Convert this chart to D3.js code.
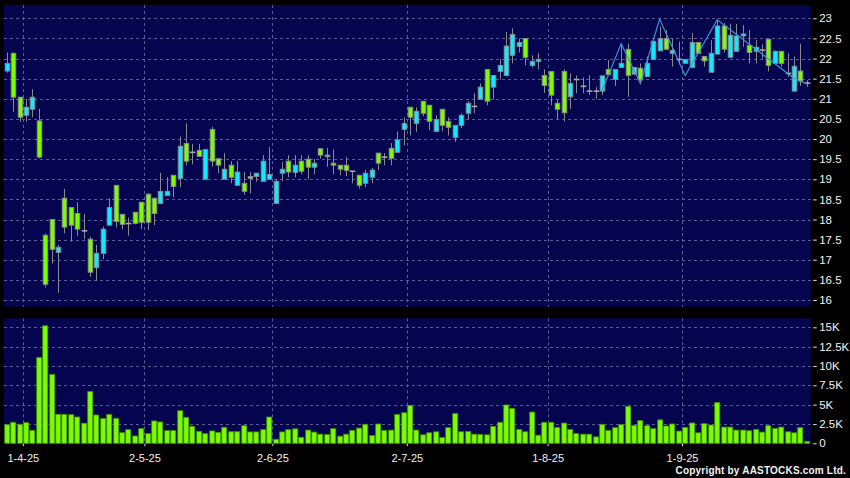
<!DOCTYPE html>
<html><head><meta charset="utf-8">
<script src="https://cdn.jsdelivr.net/npm/d3@7"></script>
<style>html,body{margin:0;padding:0;background:#000;} svg{display:block;}</style>
</head><body>
<svg id="c" width="850" height="478"></svg>
<script>
// ---- data (index 0 = 28-3-25, one entry per trading day) ----
const open = [21.69,22.13,21.04,20.59,20.74,20.45,17.61,18.00,17.18,18.53,18.30,18.15,17.72,17.51,16.81,17.16,17.86,18.85,18.13,17.90,
18.18,18.43,18.63,18.53,18.40,18.60,19.10,19.02,19.89,19.67,19.72,19.00,20.24,19.51,19.00,19.35,18.85,18.90,19.02,19.07,
18.95,19.00,18.40,19.15,19.45,19.17,19.45,19.50,19.30,19.76,19.60,19.40,19.35,19.35,19.20,19.10,18.90,19.05,19.65,19.55,
19.77,19.67,20.24,20.79,20.39,20.94,20.84,20.19,20.74,20.44,20.04,20.34,20.64,20.81,20.99,21.73,21.29,21.68,21.58,22.08,
22.30,22.50,21.83,21.93,21.58,21.68,20.89,21.68,21.05,21.48,21.31,21.19,21.19,21.19,21.73,21.48,21.78,22.23,21.61,21.76,
21.55,21.98,22.19,22.50,22.13,21.98,21.88,21.78,22.40,22.05,21.66,22.11,22.81,22.03,22.18,22.56,22.33,22.18,22.21,22.48,
21.88,22.18,21.63,21.19,21.69,21.39];
const high = [22.15,22.15,21.04,21.00,21.24,20.75,17.65,18.00,17.37,18.76,18.30,18.43,18.14,17.57,17.37,17.82,18.53,18.85,18.13,18.05,
18.18,18.43,18.65,18.53,19.16,19.05,19.10,20.06,20.39,19.88,19.88,19.74,20.30,19.51,19.65,19.45,19.45,19.18,19.18,19.15,
19.60,19.80,19.00,19.43,19.60,19.60,19.60,19.60,19.50,19.76,19.78,19.74,19.35,19.55,19.20,19.10,19.23,19.28,19.65,19.65,
19.90,20.19,20.54,20.79,20.79,20.94,20.84,20.59,20.74,20.54,20.34,20.64,20.94,21.14,21.38,21.73,21.58,21.98,22.66,22.75,
22.50,22.50,22.08,22.13,21.73,21.68,20.97,21.73,21.63,21.58,21.53,21.58,21.29,21.57,21.96,21.73,22.37,22.37,21.78,21.88,
22.05,22.43,22.79,22.71,22.50,22.42,21.98,22.63,22.40,22.05,22.46,22.96,22.88,22.86,22.86,22.83,22.71,22.46,22.35,22.48,
22.20,22.18,22.13,22.05,22.37,21.46];
const low = [21.65,20.68,20.43,20.43,20.54,19.52,16.31,16.91,16.18,17.66,17.45,17.60,17.51,16.58,16.48,17.01,17.86,17.80,17.76,17.60,
17.88,17.76,17.74,17.86,18.40,18.60,18.55,18.80,19.35,19.37,19.57,19.00,19.31,19.15,19.00,18.90,18.85,18.62,18.65,18.94,
18.95,19.00,18.40,18.95,19.05,19.05,19.13,19.00,19.13,19.51,19.31,19.13,19.10,19.08,18.90,18.77,18.80,18.90,19.23,19.35,
19.35,19.67,19.84,20.09,20.18,20.57,20.22,20.19,20.19,20.09,19.93,20.27,20.49,20.64,20.99,20.84,20.99,21.48,21.58,21.88,
22.15,21.83,21.78,21.73,21.14,20.84,20.49,20.44,20.75,21.14,21.14,21.09,20.99,21.09,21.60,21.32,21.78,21.05,21.61,21.38,
21.55,21.98,22.19,22.23,21.80,21.85,21.88,21.78,22.13,21.80,21.66,22.11,22.15,22.03,22.18,22.29,21.88,21.88,22.00,21.68,
21.88,21.80,21.55,21.19,21.32,21.30];
const close = [21.88,21.04,20.54,20.79,21.04,19.55,16.39,17.26,17.31,17.81,17.86,17.76,17.72,16.69,17.16,17.76,18.30,17.95,17.88,17.90,
17.90,17.93,17.93,18.15,18.70,18.70,18.82,19.82,19.45,19.67,19.57,19.74,19.45,19.35,19.25,19.05,19.18,18.70,19.07,19.15,
19.45,19.12,18.95,19.25,19.18,19.35,19.20,19.30,19.40,19.60,19.56,19.35,19.25,19.22,19.20,18.85,19.15,19.23,19.40,19.55,
19.52,19.98,20.39,20.54,20.69,20.64,20.44,20.49,20.34,20.29,20.34,20.59,20.89,20.81,21.29,20.94,21.58,21.83,22.31,22.60,
22.40,22.03,21.93,21.98,21.33,21.09,20.74,20.65,21.38,21.48,21.31,21.19,21.19,21.57,21.60,21.73,21.88,21.58,21.78,21.47,
21.88,22.43,22.50,22.23,22.20,21.98,21.98,22.40,22.13,21.94,22.13,22.81,22.23,22.58,22.56,22.61,22.15,22.28,22.21,21.83,
22.18,21.88,21.63,21.81,21.44,21.39];
// volume in thousands
const volume = [2.41,2.72,2.46,2.67,1.68,11.1,15.2,8.9,3.75,3.75,3.7,3.4,2.6,6.7,3.66,3.2,3.75,3.23,1.38,1.77,
0.95,1.9,1.25,2.89,2.76,1.64,1.64,4.22,3.36,2.2,1.55,1.25,1.6,1.42,2.07,1.5,1.5,2.28,1.47,1.47,
1.77,3.4,0.52,1.47,1.76,1.87,0.78,1.71,1.45,1.18,1.14,1.89,0.92,1.18,1.67,1.97,2.46,1.0,2.5,1.67,
1.71,3.73,3.95,4.91,1.71,1.1,1.36,1.49,0.75,2.02,3.86,1.49,1.54,1.18,1.14,1.1,2.19,2.72,4.96,4.52,
1.8,1.49,4.04,1.05,2.72,2.72,2.06,2.62,1.8,1.27,1.18,1.18,0.83,2.46,1.67,2.02,2.41,4.78,2.32,2.94,
2.28,1.89,3.03,2.24,2.5,1.58,2.06,2.63,1.36,2.54,2.37,5.26,2.1,2.1,1.71,1.71,1.62,1.8,1.45,2.28,
1.93,2.1,1.49,1.36,2.02,0.26];
const priceTicks = [16,16.5,17,17.5,18,18.5,19,19.5,20,20.5,21,21.5,22,22.5,23];
const volTicks = [0,2.5,5,7.5,10,12.5,15];
const volTickLabels = ["0","2.5K","5K","7.5K","10K","12.5K","15K"];
const dateTickIdx = [2,21,41,62,84,105];
const dateTickLabels = ["1-4-25","2-5-25","2-6-25","2-7-25","1-8-25","1-9-25"];
const zigIdx = [93,96,99,102,106,111,123,125];
const zigVal = [21.2,22.37,21.38,22.98,21.58,22.96,21.51,21.37];

// ---- layout ----
const panelL = 4, panelR = 810.7;
const pTop = 5, pBot = 306.7, vTop = 318.3, vBot = 443.7;
const NAVY = "#05054f", GRID = "#5c5c94", GREEN = "#7cfc00", CYAN = "#12e8ff", OUTL = "#8a8a8a";

const svg = d3.select("#c");
svg.append("rect").attr("width",850).attr("height",478).attr("fill","#000");

const x = d3.scaleLinear().domain([0, open.length-1]).range([6.8, 806.8]);
const y = d3.scaleLinear().domain([16,23]).range([300,18.3]);
const yv = d3.scaleLinear().domain([0,15]).range([443.3,327.3]);

svg.append("rect").attr("x",panelL).attr("y",pTop).attr("width",panelR-panelL).attr("height",pBot-pTop).attr("fill",NAVY);
svg.append("rect").attr("x",panelL).attr("y",vTop).attr("width",panelR-panelL).attr("height",vBot-vTop).attr("fill",NAVY);

const grid = svg.append("g").attr("stroke",GRID).attr("stroke-width",1).attr("stroke-dasharray","3,3");
priceTicks.forEach(t => grid.append("line").attr("x1",panelL).attr("x2",panelR)
  .attr("y1",Math.round(y(t))+0.5).attr("y2",Math.round(y(t))+0.5));
volTicks.filter(t=>t>0).forEach(t => grid.append("line").attr("x1",panelL).attr("x2",panelR)
  .attr("y1",Math.round(yv(t))+0.5).attr("y2",Math.round(yv(t))+0.5));
dateTickIdx.forEach(i => {
  const xx = Math.round(x(i+0.5))+0.5;
  grid.append("line").attr("x1",xx).attr("x2",xx).attr("y1",pTop).attr("y2",pBot);
  grid.append("line").attr("x1",xx).attr("x2",xx).attr("y1",vTop).attr("y2",vBot);
});

// ---- candles ----
const idx = d3.range(open.length);
const cg = svg.append("g");
idx.forEach(i => {
  const cx = Math.round(x(i)) + 0.5;
  cg.append("line").attr("x1",cx).attr("x2",cx).attr("y1",y(high[i])).attr("y2",y(low[i]))
    .attr("stroke",OUTL).attr("stroke-width",1);
  const top = y(Math.max(open[i],close[i])), bot = y(Math.min(open[i],close[i]));
  if (bot - top < 1.5) {
    cg.append("line").attr("x1",cx-2.8).attr("x2",cx+2.8).attr("y1",(top+bot)/2).attr("y2",(top+bot)/2)
      .attr("stroke","#a8a8a8").attr("stroke-width",1.6);
  } else {
    cg.append("rect").attr("x",cx-2.3).attr("width",4.6).attr("y",top).attr("height",bot-top)
      .attr("fill", close[i] > open[i] ? CYAN : GREEN).attr("stroke",OUTL).attr("stroke-width",0.9);
  }
});

// ---- zigzag line ----
const zz = zigIdx.map((d,k)=>[d, zigVal[k]]);
svg.append("path").attr("d", d3.line().x(d=>x(d[0])).y(d=>y(d[1]))(zz))
  .attr("fill","none").attr("stroke","#3a9ad8").attr("stroke-width",1.1);

// ---- volume ----
const vg = svg.append("g");
idx.forEach(i => {
  vg.append("rect").attr("x",Math.round(x(i))-2.3).attr("width",5.1)
    .attr("y",yv(volume[i])).attr("height",yv(0)-yv(volume[i]))
    .attr("fill",GREEN).attr("stroke","#3e8f00").attr("stroke-width",0.8);
});

// ---- axes ----
const FONT = "'Liberation Sans', Arial, sans-serif";
function styleAxis(g, size){
  g.select(".domain").remove();
  g.selectAll(".tick line").attr("stroke","#e0e0e0");
  g.selectAll(".tick text").attr("fill","#f2f2f2").style("font-family",FONT).style("font-size",size);
}
const ay = svg.append("g").attr("transform",`translate(${panelR+2.5},0)`)
  .call(d3.axisRight(y).tickValues(priceTicks).tickSize(3.5).tickPadding(2.5).tickFormat(d=>String(d)));
styleAxis(ay,"11.5px");
const av = svg.append("g").attr("transform",`translate(${panelR+2.5},0)`)
  .call(d3.axisRight(yv).tickValues(volTicks).tickSize(3.5).tickPadding(2.5).tickFormat((d,k)=>volTickLabels[k]));
styleAxis(av,"11.5px");
const ax = svg.append("g").attr("transform",`translate(0,${vBot})`)
  .call(d3.axisBottom(x).tickValues(dateTickIdx.map(i=>i+0.5)).tickSize(2.5).tickPadding(8.5)
  .tickFormat((d,k)=>dateTickLabels[k]));
styleAxis(ax,"11px");

svg.append("text").attr("x",846).attr("y",474).attr("text-anchor","end")
  .attr("fill","#f2f2f2").style("font-family",FONT).style("font-size","10px").style("font-weight","bold")
  .style("letter-spacing","0.2px")
  .text("Copyright by AASTOCKS.com Ltd.");
</script>
</body></html>
